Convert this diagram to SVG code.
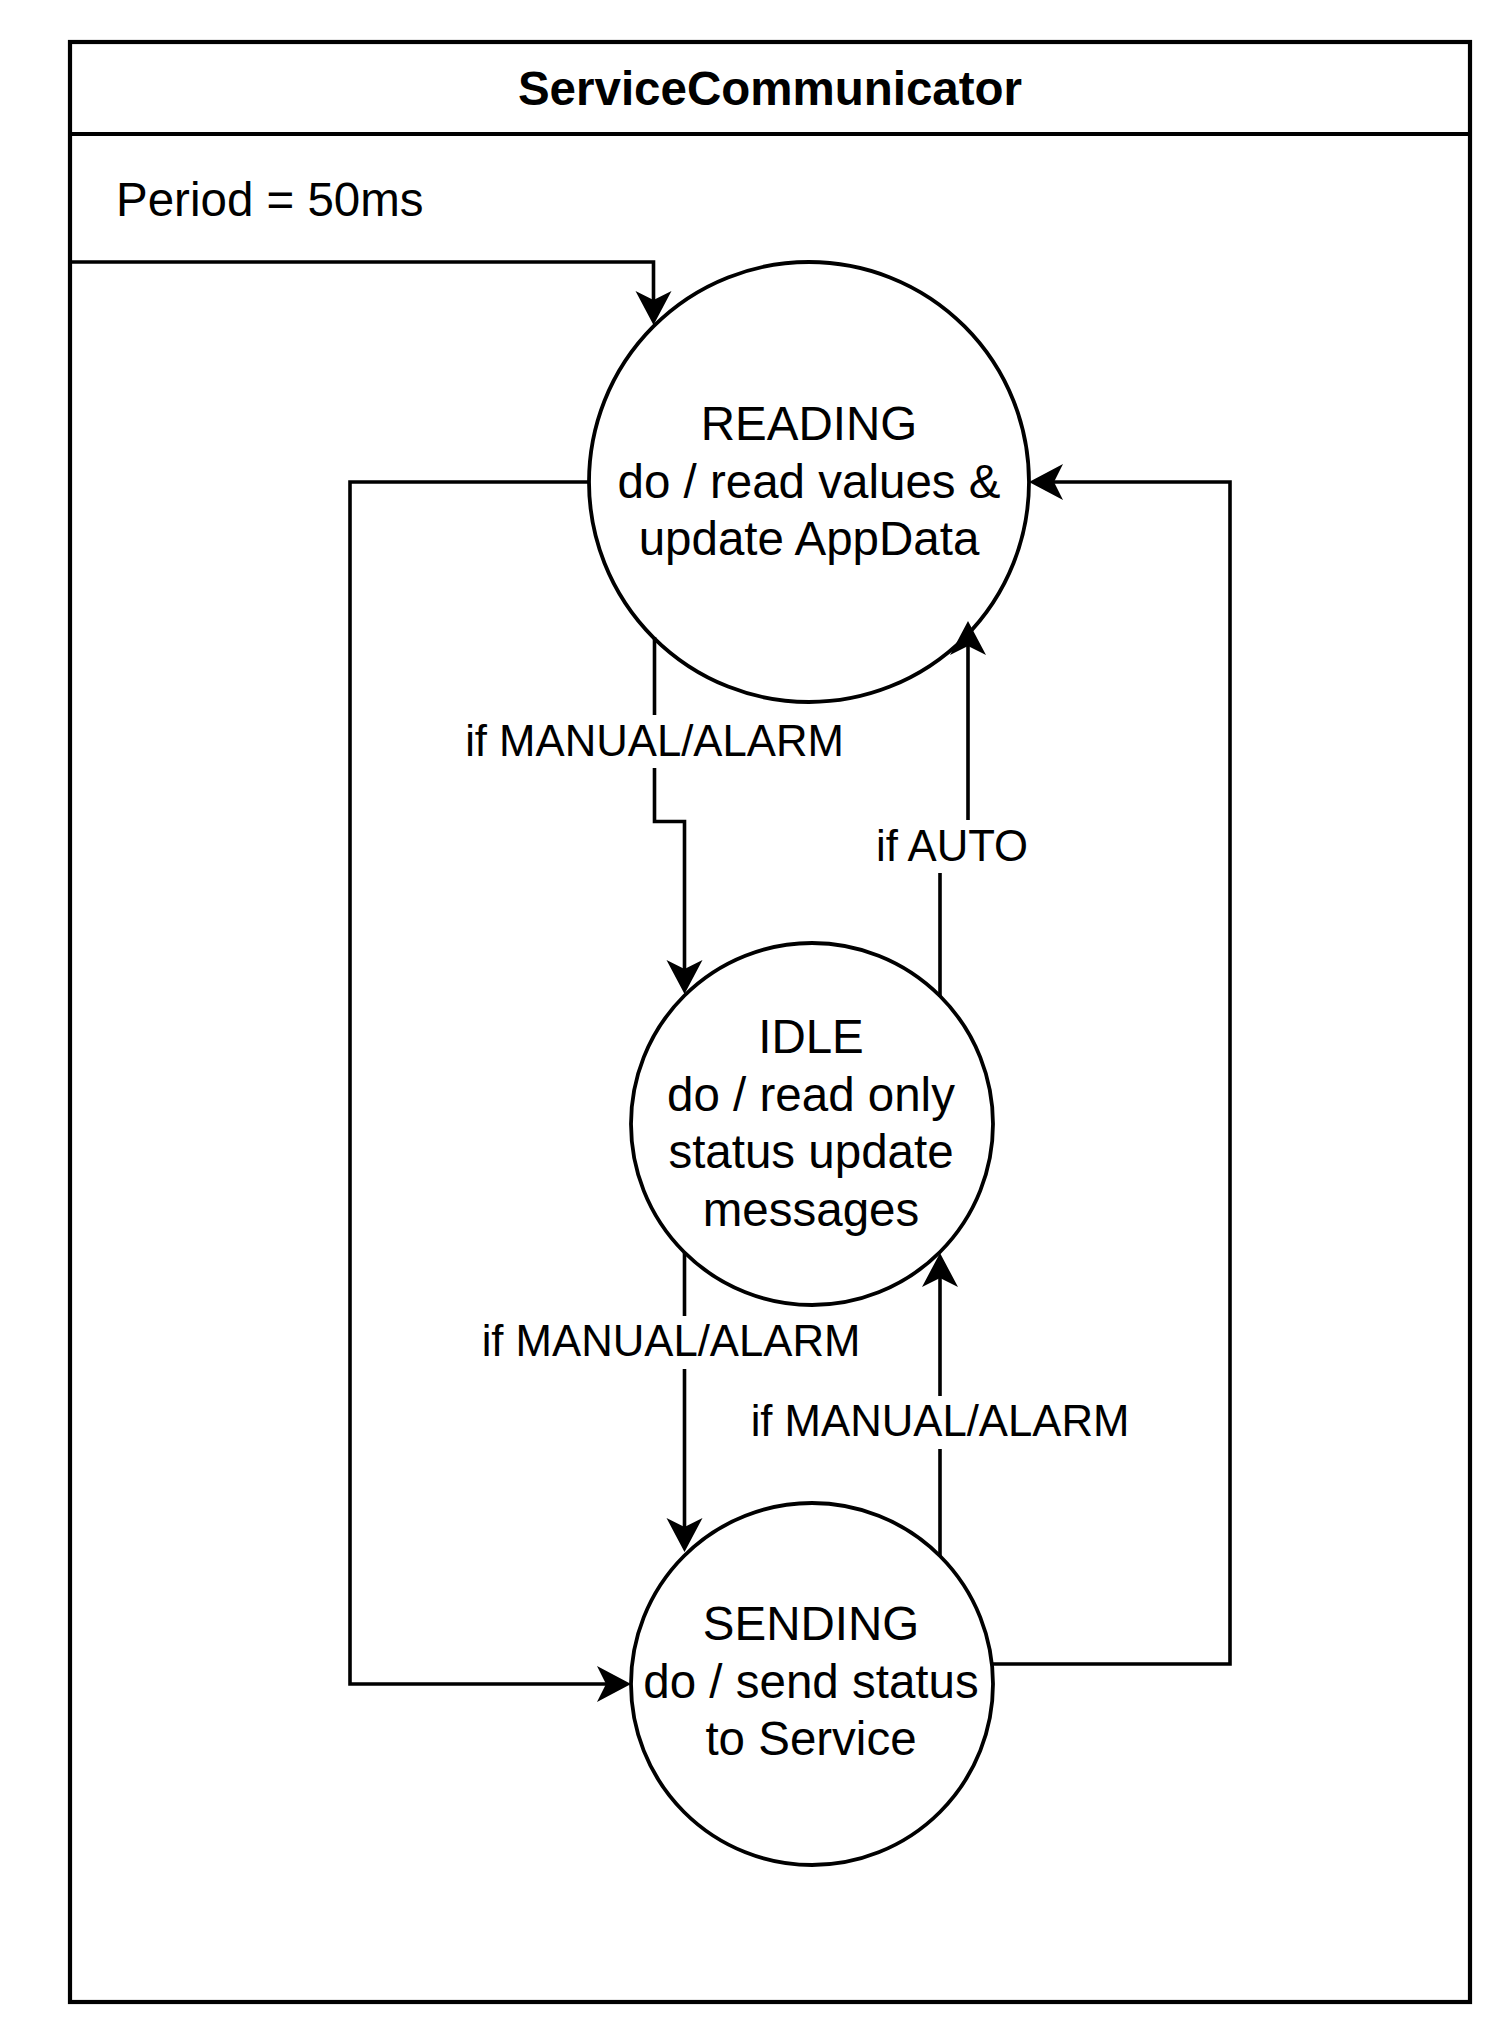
<svg xmlns="http://www.w3.org/2000/svg" width="1512" height="2044" viewBox="0 0 1512 2044">
<style>
  text { font-family: "Liberation Sans", Arial, sans-serif; fill: #000; }
  .node { font-size: 47.5px; text-anchor: middle; }
  .lbl { font-size: 43.7px; text-anchor: middle; }
  .title { font-size: 47.5px; font-weight: bold; text-anchor: middle; }
  .state { fill: #fff; stroke: #000; stroke-width: 3.8; }
  .edge { fill: none; stroke: #000; stroke-width: 3.6; marker-end: url(#arr); }
  .lblbg { fill: #fff; stroke: none; }
</style>
<defs>
  <marker id="arr" markerUnits="userSpaceOnUse" markerWidth="40" markerHeight="40" viewBox="-30 -20 40 40" refX="0" refY="0" orient="auto">
    <path d="M10,0 L-24,-18 L-15,0 L-24,18 Z" fill="#000"/>
  </marker>
</defs>
<rect width="1512" height="2044" fill="#fff"/>

<g id="container">
  <rect x="70" y="42" width="1400" height="1960" fill="#fff" stroke="#000" stroke-width="4.2"/>
  <line x1="70" y1="134" x2="1470" y2="134" stroke="#000" stroke-width="4.2"/>
  <text class="title" x="770" y="105">ServiceCommunicator</text>
  <text x="116" y="216" font-size="47.5px">Period = 50ms</text>
</g>

<g id="reading">
  <circle class="state" cx="809" cy="482" r="220"/>
  <text class="node" x="809" y="440">READING</text>
  <text class="node" x="809" y="497.5">do / read values &amp;</text>
  <text class="node" x="809" y="555">update AppData</text>
</g>

<g id="idle">
  <circle class="state" cx="812" cy="1124" r="181"/>
  <text class="node" x="811" y="1053">IDLE</text>
  <text class="node" x="811" y="1110.5">do / read only</text>
  <text class="node" x="811" y="1168">status update</text>
  <text class="node" x="811" y="1225.5">messages</text>
</g>

<g id="sending">
  <circle class="state" cx="812" cy="1684" r="181"/>
  <text class="node" x="811" y="1640">SENDING</text>
  <text class="node" x="811" y="1697.5">do / send status</text>
  <text class="node" x="811" y="1755">to Service</text>
</g>

<g id="connectors">
  <path class="edge" d="M70,262 H653.5 V315"/>
  <path class="edge" d="M654.5,637 V821.5 H684.5 V984"/>
  <path class="edge" d="M940,997 V846 H968 V631"/>
  <path class="edge" d="M684.5,1253 V1542"/>
  <path class="edge" d="M940,1556 V1263"/>
  <path class="edge" d="M589,482 H350 V1684 H621"/>
  <path class="edge" d="M992,1664 H1230 V482 H1039"/>
</g>

<g id="edge-labels">
  <rect class="lblbg" x="463" y="715" width="383" height="53"/>
  <text class="lbl" x="654.5" y="756">if MANUAL/ALARM</text>
  <rect class="lblbg" x="872" y="820" width="160" height="53"/>
  <text class="lbl" x="952" y="860.5">if AUTO</text>
  <rect class="lblbg" x="479" y="1316" width="383" height="53"/>
  <text class="lbl" x="671" y="1356">if MANUAL/ALARM</text>
  <rect class="lblbg" x="748" y="1396" width="383" height="53"/>
  <text class="lbl" x="940" y="1436">if MANUAL/ALARM</text>
</g>
</svg>
